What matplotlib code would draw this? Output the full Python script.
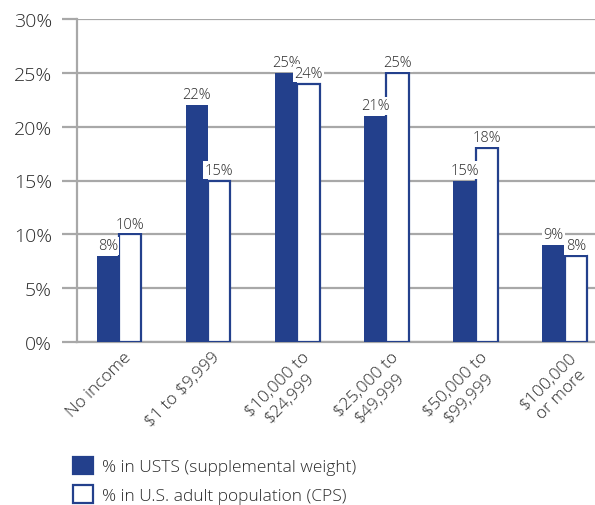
import matplotlib
matplotlib.use("Agg")
from matplotlib import pyplot as plt
from matplotlib.patches import Patch
from matplotlib.transforms import ScaledTranslation
import numpy as np

# Income categories and shares (%)
categories = [
    "No income",
    "\\$1 to \\$9,999",
    "\\$10,000 to\n\\$24,999",
    "\\$25,000 to\n\\$49,999",
    "\\$50,000 to\n\\$99,999",
    "\\$100,000\nor more",
]
usts = [8, 22, 25, 21, 15, 9]
cps = [10, 15, 24, 25, 18, 8]
series_names = ["% in USTS (supplemental weight)", "% in U.S. adult population (CPS)"]

NAVY = "#23408c"
GRID = "#a8a8a8"
TEXT = "#2a2a2a"

plt.rcParams["font.family"] = ["Open Sans", "DejaVu Sans"]
plt.rcParams["font.weight"] = "light"

fig = plt.figure(figsize=(5.95, 5.06), dpi=100)
ax = fig.add_axes([77 / 595, 1 - 343 / 506, 1 - 77 / 595, 323 / 506])

x = np.arange(len(categories))
w = 0.25
b1 = ax.bar(x - w / 2, usts, w, color=NAVY, edgecolor=NAVY, linewidth=0, zorder=3)
b2 = ax.bar(x + w / 2, cps, w, color="white", edgecolor=NAVY, linewidth=1.6, zorder=3)

# value labels with white background over the grid
for bars, vals in [(b1, usts), (b2, cps)]:
    for r, v in zip(bars, vals):
        ax.annotate(
            f"{v}%",
            (r.get_x() + r.get_width() / 2, v),
            xytext=(0, 2),
            textcoords="offset points",
            ha="center",
            va="bottom",
            fontsize=10.5,
            color=TEXT,
            zorder=4,
            bbox=dict(boxstyle="square,pad=0.1", fc="white", ec="none"),
        )

ax.set_ylim(0, 30)
ax.set_xlim(-0.47, 5.34)
ax.set_yticks(range(0, 31, 5))
ax.set_yticklabels([f"{t}%" for t in range(0, 31, 5)])
ax.grid(axis="y", color=GRID, linewidth=1.6, zorder=0)
ax.set_axisbelow(True)
ax.tick_params(axis="y", length=11, width=1.6, color=GRID, pad=7, labelsize=14, labelcolor=TEXT)
ax.tick_params(axis="x", length=0, pad=5)

ax.set_xticks(x)
ax.set_xticklabels(categories, rotation=45, ha="right", va="top", rotation_mode="anchor",
                   multialignment="center", fontsize=12.5, color=TEXT)
for lbl in ax.get_xticklabels():
    lbl.set_transform(lbl.get_transform() + ScaledTranslation(4 / 100, 0, fig.dpi_scale_trans))

for s in ["top", "right"]:
    ax.spines[s].set_visible(False)
ax.spines["left"].set_color(GRID)
ax.spines["left"].set_linewidth(1.6)
ax.spines["bottom"].set_color(GRID)
ax.spines["bottom"].set_linewidth(1.6)

handles = [
    Patch(facecolor=NAVY, edgecolor=NAVY, linewidth=1.6),
    Patch(facecolor="white", edgecolor=NAVY, linewidth=1.6),
]
fig.legend(
    handles,
    series_names,
    loc="upper left",
    bbox_to_anchor=(57 / 595, 1 - 442 / 506),
    frameon=False,
    fontsize=12.5,
    labelcolor=TEXT,
    handlelength=1.2,
    handleheight=1.2,
    handletextpad=0.5,
    labelspacing=0.55,
)

fig.savefig("out.png", dpi=100)
